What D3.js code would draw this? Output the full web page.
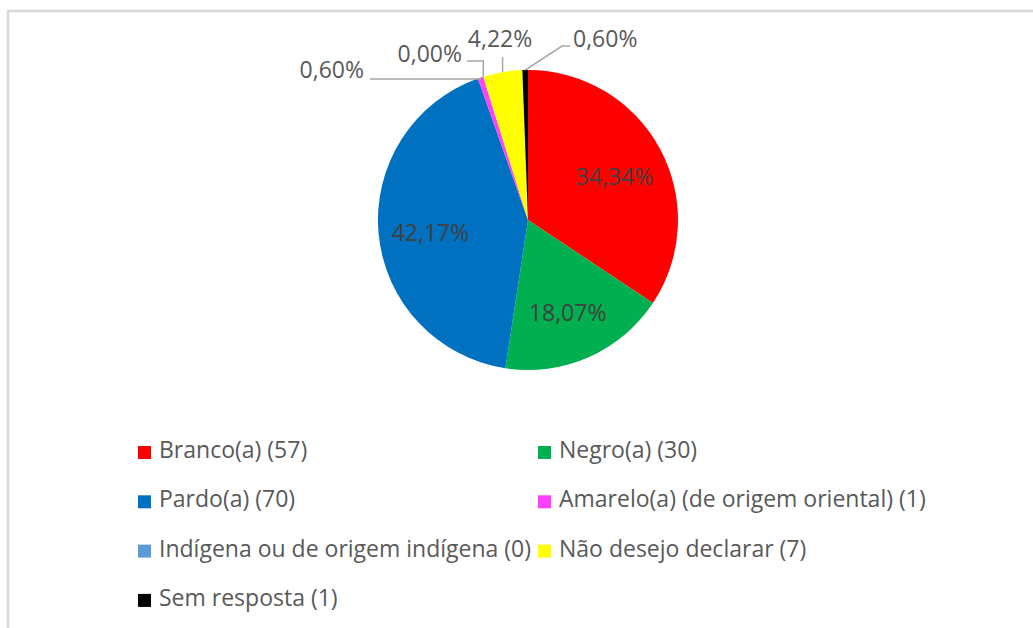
<!DOCTYPE html>
<meta charset="utf-8">
<script src="https://d3js.org/d3.v7.min.js"></script>
<style>
body { margin: 0; background: #fff; }
text { font-family: "Open Sans", sans-serif; font-size: 23px; }
.inlab { fill: #404040; }
.outlab { fill: #595959; }
.legend text { fill: #595959; }
.leader { fill: none; stroke: #a6a6a6; stroke-width: 1.5px; }
</style>
<body>
<script>

// data
var categories = ["Branco(a)", "Negro(a)", "Pardo(a)", "Amarelo(a) (de origem oriental)",
  "Indígena ou de origem indígena", "Não desejo declarar", "Sem resposta"];
var counts = [57, 30, 70, 1, 0, 7, 1];
var colors = ["#ff0000", "#00b050", "#0070c0", "#ff40ff", "#5b9bd5", "#ffff00", "#000000"];

var width = 1033,
    height = 628,
    cx = 528, cy = 220, r = 150;

var total = d3.sum(counts);
var fmt = function(v) { return (v / total * 100).toFixed(2).replace(".", ",") + "%"; };

// slices with their label outside (index, anchor, text pos rel. to centre, leader)
var outside = [
  {i: 3, anchor: "end",    tx: -164, ty: -142, sx: -158, ly: -141},
  {i: 4, anchor: "end",    tx: -66,  ty: -158, sx: -61,  ly: -159},
  {i: 5, anchor: "middle", tx: -28,  ty: -173, sx: null, ly: -163},
  {i: 6, anchor: "start",  tx: 45,   ty: -173, sx: 42,   ly: -174, kx: 34}
];

var svg = d3.select("body").append("svg")
    .attr("width", width)
    .attr("height", height);

// chart border
svg.append("rect")
    .attr("x", 8).attr("y", 11)
    .attr("width", width + 20).attr("height", height + 20)
    .attr("fill", "#fff")
    .attr("stroke", "#d9d9d9")
    .attr("stroke-width", 2.5);

var pie = d3.pie().sort(null).value(function(d) { return d; });
var arcs = pie(counts);

var arc = d3.arc().innerRadius(0).outerRadius(r);
var labelArc = d3.arc().innerRadius(98).outerRadius(98);

var g = svg.append("g").attr("transform", "translate(" + cx + "," + cy + ")");

g.selectAll("path.slice")
  .data(arcs)
  .enter().append("path")
  .attr("class", "slice")
  .attr("d", arc)
  .attr("fill", function(d, i) { return colors[i]; });

// inside labels for the big slices
var outIdx = outside.map(function(o) { return o.i; });
g.selectAll("text.inlab")
  .data(arcs.filter(function(d, i) { return outIdx.indexOf(i) < 0; }))
  .enter().append("text")
  .attr("class", "inlab")
  .attr("text-anchor", "middle")
  .attr("dy", "0.5em")
  .attr("transform", function(d) { return "translate(" + labelArc.centroid(d) + ")"; })
  .text(function(d) { return fmt(d.value); });

// outside labels with leader lines
outside.forEach(function(o) {
  var d = arcs[o.i];
  var mid = (d.startAngle + d.endAngle) / 2;
  var ax = r * Math.sin(mid), ay = -r * Math.cos(mid);
  var kx = o.kx != null ? o.kx : ax;
  var pts = [];
  if (o.sx != null) pts.push([o.sx, o.ly]);
  pts.push([kx, o.ly]);
  pts.push([ax, ay]);
  g.append("path")
    .attr("class", "leader")
    .attr("d", d3.line()(pts));
  g.append("text")
    .attr("class", "outlab")
    .attr("text-anchor", o.anchor)
    .attr("x", o.tx).attr("y", o.ty)
    .text(fmt(d.value));
});

// legend
var legend = svg.append("g").attr("class", "legend");
var item = legend.selectAll("g")
  .data(categories)
  .enter().append("g")
  .attr("transform", function(d, i) {
    return "translate(" + (i % 2 ? 538 : 138) + "," + (458 + Math.floor(i / 2) * 49.3) + ")";
  });

item.append("rect")
  .attr("x", 0).attr("y", -12)
  .attr("width", 13).attr("height", 13)
  .attr("fill", function(d, i) { return colors[i]; });

item.append("text")
  .attr("x", 21).attr("y", 0)
  .text(function(d, i) { return d + " (" + counts[i] + ")"; });

</script>
</body>
</html>
